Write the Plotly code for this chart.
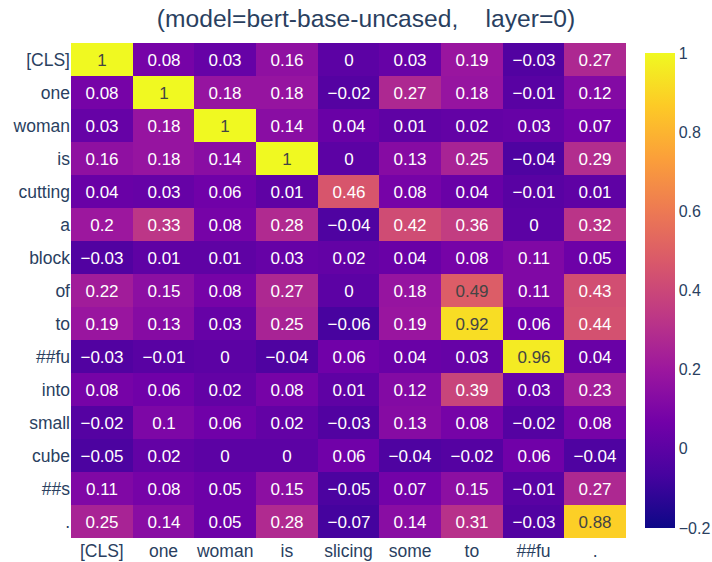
import plotly.graph_objects as go

# Token labels for key (columns) and query (rows) positions
col_tokens = ["[CLS]", "one", "woman", "is", "slicing", "some", "to", "##fu", "."]
row_tokens = ["[CLS]", "one", "woman", "is", "cutting", "a", "block", "of", "to",
              "##fu", "into", "small", "cube", "##s", "."]

# Similarity values, one list per row token
r_cls = [1, 0.08, 0.03, 0.16, 0, 0.03, 0.19, -0.03, 0.27]
r_one = [0.08, 1, 0.18, 0.18, -0.02, 0.27, 0.18, -0.01, 0.12]
r_woman = [0.03, 0.18, 1, 0.14, 0.04, 0.01, 0.02, 0.03, 0.07]
r_is = [0.16, 0.18, 0.14, 1, 0, 0.13, 0.25, -0.04, 0.29]
r_cutting = [0.04, 0.03, 0.06, 0.01, 0.46, 0.08, 0.04, -0.01, 0.01]
r_a = [0.2, 0.33, 0.08, 0.28, -0.04, 0.42, 0.36, 0, 0.32]
r_block = [-0.03, 0.01, 0.01, 0.03, 0.02, 0.04, 0.08, 0.11, 0.05]
r_of = [0.22, 0.15, 0.08, 0.27, 0, 0.18, 0.49, 0.11, 0.43]
r_to = [0.19, 0.13, 0.03, 0.25, -0.06, 0.19, 0.92, 0.06, 0.44]
r_fu = [-0.03, -0.01, 0, -0.04, 0.06, 0.04, 0.03, 0.96, 0.04]
r_into = [0.08, 0.06, 0.02, 0.08, 0.01, 0.12, 0.39, 0.03, 0.23]
r_small = [-0.02, 0.1, 0.06, 0.02, -0.03, 0.13, 0.08, -0.02, 0.08]
r_cube = [-0.05, 0.02, 0, 0, 0.06, -0.04, -0.02, 0.06, -0.04]
r_s = [0.11, 0.08, 0.05, 0.15, -0.05, 0.07, 0.15, -0.01, 0.27]
r_dot = [0.25, 0.14, 0.05, 0.28, -0.07, 0.14, 0.31, -0.03, 0.88]

z = [r_cls, r_one, r_woman, r_is, r_cutting, r_a, r_block, r_of, r_to,
     r_fu, r_into, r_small, r_cube, r_s, r_dot]

W, H = 712, 562

fig = go.Figure(
    go.Heatmap(
        z=z,
        x=col_tokens,
        y=row_tokens,
        colorscale="Plasma",
        zmin=-0.2,
        zmax=1,
        texttemplate="%{z}",
        textfont=dict(size=17),
        colorbar=dict(x=1.016, tickfont=dict(size=16)),
    )
)

fig.update_layout(
    width=W,
    height=H,
    template="plotly",
    font=dict(family="Liberation Sans, Arial", size=17.5, color="#2a3f5f"),
    title=dict(
        text="(model=bert-base-uncased,&nbsp;&nbsp;&nbsp;&nbsp;layer=0)",
        x=366 / W, xanchor="center", y=1 - 18 / H, yanchor="middle",
        font=dict(size=24.6),
    ),
    margin=dict(l=71, r=86, t=43, b=24, autoexpand=False),
    plot_bgcolor="white",
    paper_bgcolor="white",
)
fig.update_yaxes(autorange="reversed", showgrid=False, ticks="")
fig.update_xaxes(showgrid=False, ticks="")

fig.write_html("out.html")
